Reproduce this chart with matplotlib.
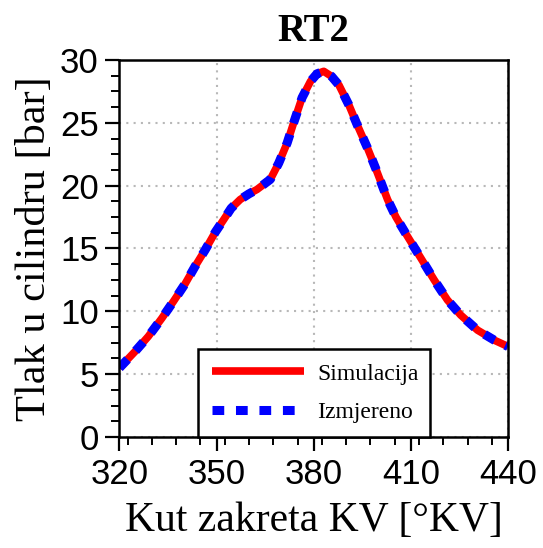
import matplotlib
matplotlib.use("Agg")
import matplotlib.pyplot as plt
from matplotlib.ticker import MultipleLocator

# ---- data ----
crank_angle = [320, 324.8, 328.9, 333.1, 336.7, 340.3, 343.4, 346.5, 349.6, 352.2, 354.5,
               357.3, 360, 362.5, 366.6, 369.2, 371.8, 373.8, 376.4, 379.0, 381, 383.1,
               385.5, 387.8, 390.9, 393.5, 396.6, 399.1, 402.8, 405.4, 408.4, 411.5, 414.6,
               417.2, 421.3, 425.4, 430.6, 435.8, 440]
p_simulated = [5.5, 6.8, 8.0, 9.45, 10.8, 12.2, 13.6, 14.9, 16.3, 17.3, 18.2,
               18.9, 19.35, 19.7, 20.5, 21.8, 23.4, 25.0, 27.0, 28.3, 28.9, 29.1,
               28.7, 28.0, 26.4, 24.8, 23.0, 21.4, 18.9, 17.5, 16.2, 14.9, 13.6,
               12.5, 10.9, 9.7, 8.5, 7.7, 7.2]
p_measured = [5.5, 6.8, 8.0, 9.45, 10.8, 12.2, 13.6, 14.9, 16.3, 17.3, 18.2,
              18.9, 19.35, 19.7, 20.5, 21.8, 23.4, 25.0, 27.0, 28.3, 28.9, 29.1,
              28.7, 28.0, 26.4, 24.8, 23.0, 21.4, 18.9, 17.5, 16.2, 14.9, 13.6,
              12.5, 10.9, 9.7, 8.5, 7.7, 7.2]
x_ticks = [320, 350, 380, 410, 440]
y_ticks = [0, 5, 10, 15, 20, 25, 30]
labels = ["Simulacija", "Izmjereno"]

SERIF = ["Liberation Serif", "DejaVu Serif"]
SANS = ["Liberation Sans", "DejaVu Sans"]

fig = plt.figure(figsize=(5.43, 5.48), dpi=100)
ax = fig.add_axes([0.22, 0.2026, 0.7155, 0.6879])

ax.plot(crank_angle, p_simulated, color="#ff0000", lw=5.5, solid_joinstyle="round",
        solid_capstyle="butt", label=labels[0], zorder=3)
ax.plot(crank_angle, p_measured, color="#0000ff", lw=6.5, linestyle=(0, (1.3, 1.3)),
        dash_capstyle="butt", dash_joinstyle="round", label=labels[1], zorder=4)

ax.set_xlim(320, 440)
ax.set_ylim(0, 30)
ax.set_xticks(x_ticks)
ax.set_yticks(y_ticks)
ax.xaxis.set_minor_locator(MultipleLocator(7.5))
ax.yaxis.set_minor_locator(MultipleLocator(1.25))
ax.tick_params(which="major", direction="out", length=10, width=1.6, pad=5,
               labelsize=25, top=False, right=False)
ax.tick_params(which="minor", direction="out", length=6, width=1.4, top=False, right=False)
for lab in ax.get_xticklabels() + ax.get_yticklabels():
    lab.set_family(SANS)

ax.grid(True, which="major", linestyle=(0, (1, 2.5)), color="#b8b8b8", lw=1.5, zorder=0)
for s in ax.spines.values():
    s.set_linewidth(1.8)
    s.set_zorder(5)

ax.set_title("RT2", family=SERIF, fontweight="bold", fontsize=28, pad=14)
ax.set_xlabel("Kut zakreta KV [°KV]", family=SERIF, fontsize=30, labelpad=8)
ax.set_ylabel("Tlak u cilindru [bar]", family=SERIF, fontsize=30.5, labelpad=4)

leg = ax.legend(loc="lower left", bbox_to_anchor=(0.202, 0.0, 0.597, 0.239),
                mode="expand", borderaxespad=0,
                prop={"family": SERIF, "size": 17}, handlelength=3.9,
                handletextpad=0.55, borderpad=0.6, labelspacing=0.7,
                fancybox=False, framealpha=1, edgecolor="black")
leg.get_frame().set_linewidth(1.8)
leg.set_zorder(6)

fig.savefig("out.png", dpi=100)
